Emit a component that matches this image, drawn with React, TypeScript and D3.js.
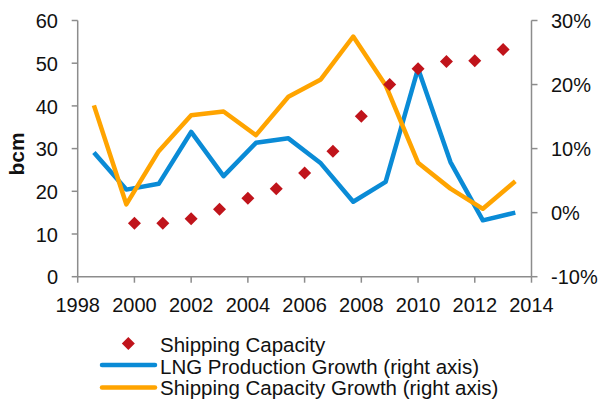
import React from "react";
import * as d3 from "d3";

const capacityYears = [2000, 2001, 2002, 2003, 2004, 2005, 2006, 2007, 2008, 2009, 2010, 2011, 2012, 2013];
const shippingCapacity = [12.5, 12.5, 13.6, 15.8, 18.4, 20.6, 24.3, 29.4, 37.6, 45.0, 48.7, 50.4, 50.6, 53.2];
const growthCategories = ["1999", "2000", "2001", "2002", "2003", "2004", "2005", "2006", "2007", "2008", "2009", "2010", "2011", "2012"];
const lngProductionGrowth = [9.4, 3.6, 4.5, 12.6, 5.7, 10.9, 11.6, 7.7, 1.7, 4.8, 22.5, 7.9, -1.2, 0.0];
const shippingCapacityGrowth = [16.75, 1.3, 9.6, 15.2, 15.8, 12.1, 18.1, 20.8, 27.5, 19.9, 7.8, 3.75, 0.6, 4.9];
const xTicks = [1998, 2000, 2002, 2004, 2006, 2008, 2010, 2012, 2014];
const leftTicks = [0, 10, 20, 30, 40, 50, 60];
const rightTicks = [-10, 0, 10, 20, 30];
const legendLabels = ["Shipping Capacity", "LNG Production Growth (right axis)", "Shipping Capacity Growth (right axis)"];

const W = 601, H = 401;
const X0 = 77.7, X1 = 531.5, Y0 = 276.7, Y1 = 20.5;
const FONT = "'Liberation Sans', Arial, sans-serif";
const AXIS = "#8c8c8c";
const BLUE = "#0a8bd6";
const ORANGE = "#ffa400";
const RED = "#c0141b";

export default function App() {
  const x = d3.scaleLinear().domain([1998, 2014]).range([X0, X1]);
  const xBand = d3.scaleBand().domain(growthCategories).range([X0, X1]).padding(0);
  const yL = d3.scaleLinear().domain([0, 60]).range([Y0, Y1]);
  const yR = d3.scaleLinear().domain([-10, 30]).range([Y0, Y1]);
  const bx = (c: string) => (xBand(c) as number) + xBand.bandwidth() / 2;

  const lineLng = d3.line<number>().x((_, i) => bx(growthCategories[i])).y((d) => yR(d));
  const lineShip = d3.line<number>().x((_, i) => bx(growthCategories[i])).y((d) => yR(d));
  const diamond = (cx: number, cy: number, r: number) =>
    `M${cx},${cy - r}L${cx + r},${cy}L${cx},${cy + r}L${cx - r},${cy}Z`;

  return (
    <svg width={W} height={H} style={{ position: "absolute", left: 0, top: 0, background: "#fff" }} fontFamily={FONT}>
      {/* left axis */}
      <line x1={X0} x2={X0} y1={Y1} y2={Y0} stroke={AXIS} strokeWidth={1.5} />
      {leftTicks.map((t) => (
        <g key={"l" + t}>
          <line x1={X0 - 6} x2={X0} y1={yL(t)} y2={yL(t)} stroke={AXIS} strokeWidth={1.5} />
          <text x={58} y={yL(t)} dy="0.38em" textAnchor="end" fontSize={20} fill="#111">{t}</text>
        </g>
      ))}
      {/* right axis */}
      <line x1={X1} x2={X1} y1={Y1} y2={Y0} stroke={AXIS} strokeWidth={1.5} />
      {rightTicks.map((t) => (
        <g key={"r" + t}>
          <line x1={X1} x2={X1 + 6} y1={yR(t)} y2={yR(t)} stroke={AXIS} strokeWidth={1.5} />
          <text x={551} y={yR(t)} dy="0.38em" textAnchor="start" fontSize={20} fill="#111">{t + "%"}</text>
        </g>
      ))}
      {/* bottom axis */}
      <line x1={X0} x2={X1} y1={Y0} y2={Y0} stroke={AXIS} strokeWidth={1.5} />
      {xTicks.map((t) => (
        <g key={"x" + t}>
          <line x1={x(t)} x2={x(t)} y1={Y0} y2={Y0 + 6} stroke={AXIS} strokeWidth={1.5} />
          <text x={x(t)} y={312} textAnchor="middle" fontSize={20} fill="#111">{t}</text>
        </g>
      ))}
      <text transform={`translate(24,154) rotate(-90)`} textAnchor="middle" fontSize={21} fontWeight="bold" fill="#111">bcm</text>

      {/* lines */}
      <path d={lineLng(lngProductionGrowth) || ""} fill="none" stroke={BLUE} strokeWidth={4.5} strokeLinejoin="round" />
      <path d={lineShip(shippingCapacityGrowth) || ""} fill="none" stroke={ORANGE} strokeWidth={4.5} strokeLinejoin="round" />
      {/* diamonds */}
      {shippingCapacity.map((v, i) => (
        <path key={"d" + i} d={diamond(x(capacityYears[i]), yL(v), 6.5)} fill={RED} />
      ))}

      {/* legend */}
      <path d={diamond(128.3, 343.5, 6.5)} fill={RED} />
      <text x={160} y={352} fontSize={20.5} fill="#111">{legendLabels[0]}</text>
      <line x1={102} x2={155} y1={365} y2={365} stroke={BLUE} strokeWidth={4.5} strokeLinecap="round" />
      <text x={160} y={373.5} fontSize={20.5} fill="#111">{legendLabels[1]}</text>
      <line x1={102} x2={155} y1={387.5} y2={387.5} stroke={ORANGE} strokeWidth={4.5} strokeLinecap="round" />
      <text x={160} y={395} fontSize={20.5} fill="#111">{legendLabels[2]}</text>
    </svg>
  );
}
